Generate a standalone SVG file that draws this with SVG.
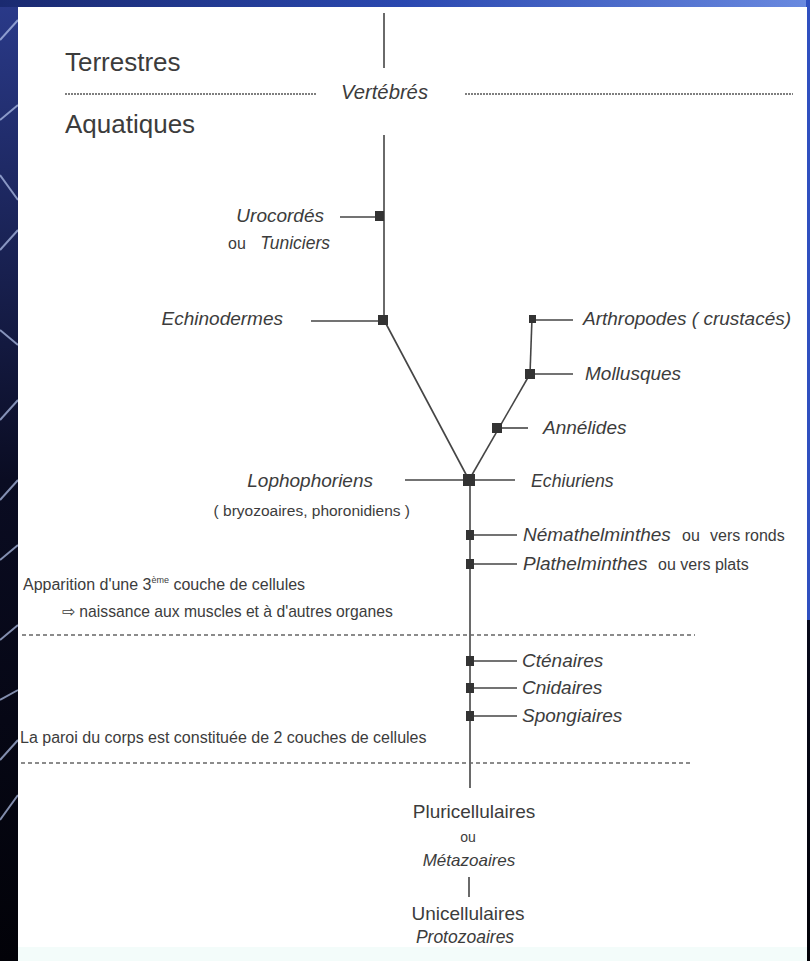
<svg xmlns="http://www.w3.org/2000/svg" width="810" height="961" viewBox="0 0 810 961">
<defs>
<linearGradient id="bg" x1="0" y1="0" x2="0" y2="1">
<stop offset="0" stop-color="#2a3a8a"/>
<stop offset="0.5" stop-color="#0a0c22"/>
<stop offset="1" stop-color="#020208"/>
</linearGradient>
<linearGradient id="top" x1="0" y1="0" x2="1" y2="0">
<stop offset="0" stop-color="#1a2a70"/>
<stop offset="0.5" stop-color="#2a48b0"/>
<stop offset="1" stop-color="#6a8ae0"/>
</linearGradient>
<style>
.t{font-family:"Liberation Sans",Arial,sans-serif;fill:#3c3c3c}
.i{font-style:italic}
.ln{stroke:#454545;stroke-width:1.6;fill:none}
.dot{stroke:#555;stroke-width:1.6;stroke-dasharray:2 1;fill:none}
.dash{stroke:#666;stroke-width:1.6;stroke-dasharray:4 3;fill:none}
.sq{fill:#333}
.streak{stroke:#b8c8f0;stroke-width:2;fill:none;opacity:0.7}
</style>
</defs>
<rect x="0" y="0" width="810" height="961" fill="url(#bg)"/>
<rect x="0" y="0" width="810" height="7" fill="url(#top)"/>
<rect x="806" y="0" width="4" height="620" fill="#3050c0"/>
<g id="streaks">
<path class="streak" d="M0 40 L18 20"/>
<path class="streak" d="M0 120 L18 105"/>
<path class="streak" d="M0 175 L18 200"/>
<path class="streak" d="M0 250 L18 230"/>
<path class="streak" d="M0 330 L18 345"/>
<path class="streak" d="M0 420 L18 400"/>
<path class="streak" d="M0 500 L18 480"/>
<path class="streak" d="M0 560 L18 545"/>
<path class="streak" d="M0 640 L18 625"/>
<path class="streak" d="M0 700 L18 690"/>
<path class="streak" d="M0 760 L18 740"/>
<path class="streak" d="M0 820 L18 795"/>
</g>
<rect x="18" y="7" width="789" height="954" fill="#ffffff"/>
<rect x="18" y="947" width="789" height="14" fill="#f3fcfa"/>

<g id="connectors">
<line class="ln" x1="384" y1="13" x2="384" y2="68"/>
<line class="ln" x1="384" y1="135" x2="384" y2="320"/>
<line class="ln" x1="340" y1="217" x2="384" y2="217"/>
<line class="ln" x1="311" y1="321" x2="384" y2="321"/>
<line class="ln" x1="384" y1="320" x2="469" y2="480"/>
<line class="ln" x1="469" y1="480" x2="530" y2="374"/>
<line class="ln" x1="530" y1="374" x2="532" y2="318"/>
<line class="ln" x1="532" y1="320" x2="573" y2="320"/>
<line class="ln" x1="530" y1="374" x2="573" y2="374"/>
<line class="ln" x1="497" y1="428" x2="528" y2="428"/>
<line class="ln" x1="405" y1="480" x2="515" y2="480"/>
<line class="ln" x1="470" y1="480" x2="470" y2="788"/>
<line class="ln" x1="470" y1="535" x2="517" y2="535"/>
<line class="ln" x1="470" y1="564" x2="517" y2="564"/>
<line class="ln" x1="470" y1="661" x2="517" y2="661"/>
<line class="ln" x1="470" y1="688" x2="517" y2="688"/>
<line class="ln" x1="470" y1="716" x2="517" y2="716"/>
<line class="ln" x1="469" y1="877" x2="469" y2="897"/>
<line class="dot" x1="65" y1="94" x2="316" y2="94"/>
<line class="dot" x1="465" y1="94" x2="793" y2="94"/>
<line class="dash" x1="22" y1="635" x2="695" y2="635"/>
<line class="dash" x1="21" y1="763" x2="693" y2="763"/>
</g>

<g id="vertebres"><text class="t i" x="341" y="99" font-size="20" textLength="87" lengthAdjust="spacingAndGlyphs">Vertébrés</text></g>
<g id="terrestres"><text class="t" x="65" y="71" font-size="26">Terrestres</text></g>
<g id="aquatiques"><text class="t" x="65" y="133" font-size="26">Aquatiques</text></g>

<g id="urocordes">
<rect class="sq" x="375" y="211" width="9" height="10"/>
<text class="t i" x="324" y="222" font-size="19" text-anchor="end">Urocordés</text>
<text class="t" x="228" y="249" font-size="16">ou</text>
<text class="t i" x="330" y="249" font-size="17.5" text-anchor="end">Tuniciers</text>
</g>
<g id="echinodermes">
<rect class="sq" x="378" y="315" width="10" height="10"/>
<text class="t i" x="283" y="325" font-size="19" text-anchor="end">Echinodermes</text>
</g>
<g id="arthropodes">
<rect class="sq" x="529" y="315" width="7" height="8"/>
<text class="t i" x="583" y="325" font-size="19">Arthropodes ( crustacés)</text>
</g>
<g id="mollusques">
<rect class="sq" x="525" y="369" width="10" height="10"/>
<text class="t i" x="585" y="380" font-size="19">Mollusques</text>
</g>
<g id="annelides">
<rect class="sq" x="492" y="423" width="10" height="10"/>
<text class="t i" x="543" y="434" font-size="19">Annélides</text>
</g>
<g id="lophophoriens">
<rect class="sq" x="463" y="474" width="12" height="12"/>
<text class="t i" x="373" y="487" font-size="19" text-anchor="end">Lophophoriens</text>
<text class="t" x="410" y="516" font-size="15.5" text-anchor="end">( bryozoaires, phoronidiens )</text>
</g>
<g id="echiuriens"><text class="t i" x="531" y="487" font-size="17.7">Echiuriens</text></g>
<g id="nemathelminthes">
<rect class="sq" x="466" y="530" width="8" height="10"/>
<text class="t i" x="523" y="541" font-size="19">Némathelminthes</text>
<text class="t" x="682" y="541" font-size="16">ou</text>
<text class="t" x="710" y="541" font-size="16">vers ronds</text>
</g>
<g id="plathelminthes">
<rect class="sq" x="466" y="559" width="8" height="10"/>
<text class="t i" x="523" y="570" font-size="19">Plathelminthes</text>
<text class="t" x="658" y="570" font-size="16">ou vers plats</text>
</g>
<g id="note3">
<text class="t" x="23" y="590" font-size="16">Apparition d'une 3<tspan font-size="9" dy="-7">ème</tspan><tspan dy="7"> couche de cellules</tspan></text>
<text class="t" x="62" y="617" font-size="15.7">⇨ naissance aux muscles et à d'autres organes</text>
</g>
<g id="ctenaires">
<rect class="sq" x="466" y="656" width="8" height="10"/>
<text class="t i" x="522" y="667" font-size="19">Cténaires</text>
</g>
<g id="cnidaires">
<rect class="sq" x="466" y="683" width="8" height="10"/>
<text class="t i" x="522" y="694" font-size="19">Cnidaires</text>
</g>
<g id="spongiaires">
<rect class="sq" x="466" y="711" width="8" height="10"/>
<text class="t i" x="522" y="722" font-size="19">Spongiaires</text>
</g>
<g id="note2"><text class="t" x="20" y="743" font-size="16">La paroi du corps est constituée de 2 couches de cellules</text></g>
<g id="pluricellulaires">
<text class="t" x="474" y="818" font-size="19" text-anchor="middle">Pluricellulaires</text>
<text class="t" x="468" y="842" font-size="14" text-anchor="middle">ou</text>
<text class="t i" x="469" y="866" font-size="17" text-anchor="middle">Métazoaires</text>
</g>
<g id="unicellulaires">
<text class="t" x="468" y="920" font-size="19" text-anchor="middle">Unicellulaires</text>
<text class="t i" x="465" y="943" font-size="17.5" text-anchor="middle">Protozoaires</text>
</g>
</svg>
